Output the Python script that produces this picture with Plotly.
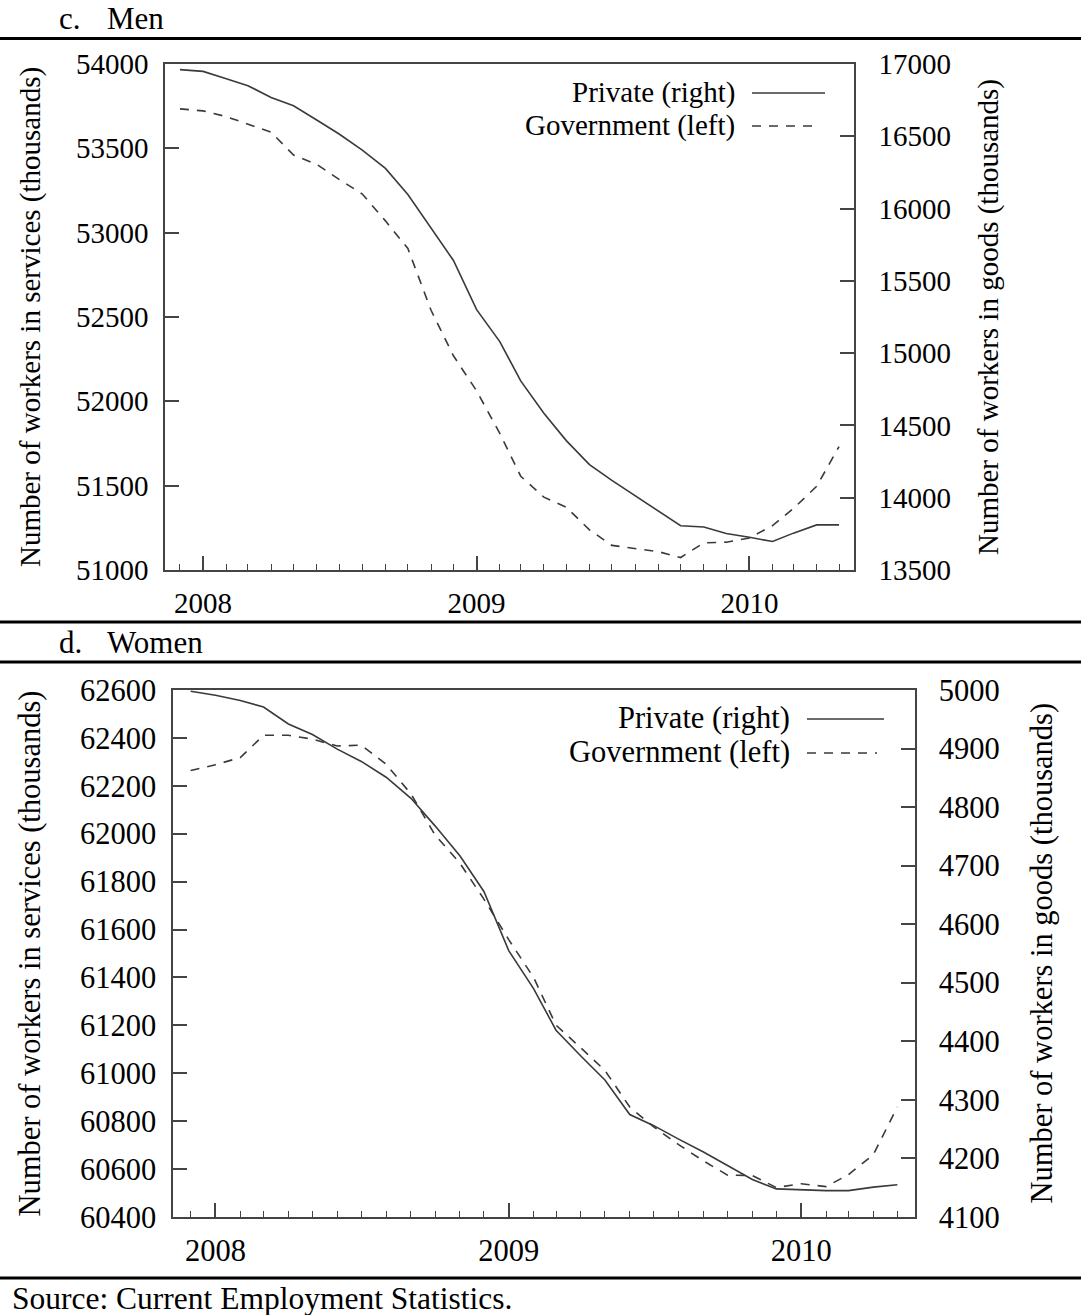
import pandas as pd
import plotly.graph_objects as go

# ---- data (thousands of workers), monthly Dec 2007 - May 2010 ----
months = pd.date_range("2007-12-01", periods=30, freq="MS")

men_private_right = [16961, 16949, 16898, 16850, 16769, 16711, 16613, 16516, 16405, 16278,
                     16097, 15861, 15641, 15301, 15080, 14808, 14585, 14395, 14229, 14120,
                     14013, 13908, 13806, 13798, 13752, 13726, 13697, 13755, 13812, 13812]
men_government_left = [53734, 53722, 53688, 53643, 53596, 53460, 53405, 53316, 53229, 53070,
                       52906, 52540, 52270, 52062, 51810, 51556, 51432, 51372, 51238, 51146,
                       51126, 51109, 51074, 51161, 51165, 51190, 51263, 51365, 51496, 51732]

women_private_right = [4998, 4991, 4982, 4971, 4942, 4924, 4899, 4878, 4851, 4815,
                       4768, 4717, 4656, 4555, 4490, 4419, 4375, 4334, 4275, 4256,
                       4233, 4211, 4188, 4164, 4148, 4146, 4145, 4145, 4151, 4155]
women_government_left = [62264, 62288, 62318, 62411, 62411, 62395, 62366, 62370, 62290, 62166,
                         61995, 61877, 61727, 61558, 61400, 61201, 61106, 61012, 60859, 60776,
                         60702, 60634, 60575, 60573, 60523, 60539, 60527, 60577, 60660, 60860]

year_ticks = ["2008-01-01", "2009-01-01", "2010-01-01"]
year_labels = ["2008", "2009", "2010"]

men_left_ticks = list(range(51000, 54001, 500))
men_right_ticks = list(range(13500, 17001, 500))
women_left_ticks = list(range(60400, 62601, 200))
women_right_ticks = list(range(4100, 5001, 100))

LEFT_TITLE = "Number of workers in services (thousands)"
RIGHT_TITLE = "Number of workers in goods (thousands)"

# ---- page geometry (pixels) ----
W, H = 1081, 1315
FONT = "Liberation Serif, Times New Roman, serif"
AX = "#444444"
LINE = "#3a3a3a"


def px(x):
    return x / W


def py(y):
    return 1 - y / H


men_box = dict(l=165, r=854, t=64, b=570)
women_box = dict(l=173, r=915, t=690, b=1217)

fig = go.Figure()

fig.add_trace(go.Scatter(x=months, y=men_government_left, xaxis="x", yaxis="y",
                         mode="lines", line=dict(color=LINE, width=1.6, dash="9px,8px"),
                         showlegend=False))
fig.add_trace(go.Scatter(x=months, y=men_private_right, xaxis="x", yaxis="y2",
                         mode="lines", line=dict(color=LINE, width=1.6),
                         showlegend=False))
fig.add_trace(go.Scatter(x=months, y=women_government_left, xaxis="x2", yaxis="y3",
                         mode="lines", line=dict(color=LINE, width=1.6, dash="9px,8px"),
                         showlegend=False))
fig.add_trace(go.Scatter(x=months, y=women_private_right, xaxis="x2", yaxis="y4",
                         mode="lines", line=dict(color=LINE, width=1.6),
                         showlegend=False))


def xaxis_cfg(box, rng, size, anchor):
    return dict(
        domain=[px(box["l"]), px(box["r"])], type="date", range=rng, anchor=anchor,
        tickmode="array", tickvals=year_ticks, ticktext=year_labels,
        ticks="inside", ticklen=14, tickwidth=1.5, tickcolor=AX,
        showline=True, linecolor=AX, linewidth=1.5, mirror=True,
        showgrid=False, zeroline=False, automargin=False,
        tickfont=dict(family=FONT, size=size, color="black"),
        ticklabelstandoff=6,
        minor=dict(ticks="inside", ticklen=6, tickwidth=1.3, tickcolor=AX,
                   dtick="M1", tick0="2007-12-01", showgrid=False),
    )


def yaxis_cfg(box, rng, vals, size, side, **kw):
    d = dict(
        domain=[py(box["b"]), py(box["t"])], range=rng,
        tickmode="array", tickvals=vals, ticktext=[str(v) for v in vals],
        ticks="inside", ticklen=14, tickwidth=1.5, tickcolor=AX,
        showline=True, linecolor=AX, linewidth=1.5,
        showgrid=False, zeroline=False, side=side, automargin=False,
        tickfont=dict(family=FONT, size=size, color="black"),
    )
    d.update(kw)
    return d


fig.update_layout(
    width=W, height=H,
    margin=dict(l=0, r=0, t=0, b=0, pad=0, autoexpand=False),
    paper_bgcolor="white", plot_bgcolor="white",
    font=dict(family=FONT, color="black"),
    xaxis=xaxis_cfg(men_box, ["2007-11-11", "2010-05-21"], 29, "y"),
    yaxis=yaxis_cfg(men_box, [51000, 54000], men_left_ticks, 29, "left",
                    anchor="x", ticklabelstandoff=9),
    yaxis2=yaxis_cfg(men_box, [13500, 17000], men_right_ticks, 29, "right",
                     anchor="x", overlaying="y", ticklabelstandoff=17),
    xaxis2=xaxis_cfg(women_box, ["2007-11-09", "2010-05-23"], 30.5, "y3"),
    yaxis3=yaxis_cfg(women_box, [60400, 62600], women_left_ticks, 30.5, "left",
                     anchor="x2", ticklabelstandoff=9),
    yaxis4=yaxis_cfg(women_box, [4100, 5000], women_right_ticks, 30.5, "right",
                     anchor="x2", overlaying="y3", ticklabelstandoff=16),
)

ann = []
shapes = []


def text(x, y, s, size, xanchor="left", angle=0):
    ann.append(dict(x=px(x), y=py(y), xref="paper", yref="paper", text=s,
                    showarrow=False, xanchor=xanchor, yanchor="middle",
                    textangle=angle, font=dict(family=FONT, size=size, color="black")))


def hline(x0, x1, y, width, color="black", dash=None):
    ln = dict(color=color, width=width)
    if dash:
        ln["dash"] = dash
    shapes.append(dict(type="line", xref="paper", yref="paper",
                       x0=px(x0), x1=px(x1), y0=py(y), y1=py(y), line=ln))


# panel headings and rules
text(57, 18, "c.", 31)
text(105, 18, "Men", 31)
text(57, 642, "d.", 31)
text(105, 642, "Women", 31)
text(10, 1298, "Source: Current Employment Statistics.", 31.5)
for y in (38.5, 622, 662, 1278):
    hline(0, W, y, 3)

# axis titles
text(30, (men_box["t"] + men_box["b"]) / 2, LEFT_TITLE, 29, "center", -90)
text(988, (men_box["t"] + men_box["b"]) / 2, RIGHT_TITLE, 29, "center", -90)
text(29, (women_box["t"] + women_box["b"]) / 2, LEFT_TITLE, 30.5, "center", -90)
text(1041, (women_box["t"] + women_box["b"]) / 2, RIGHT_TITLE, 30.5, "center", -90)

# in-plot keys
text(737, 92, "Private (right)", 29, "right")
text(737, 125, "Government (left)", 29, "right")
hline(752, 825, 93, 1.6, LINE)
hline(752, 818, 126, 1.6, LINE, "9px,8px")

text(792, 718, "Private (right)", 30.5, "right")
text(792, 752, "Government (left)", 30.5, "right")
hline(807, 884, 719, 1.6, LINE)
hline(807, 877, 753, 1.6, LINE, "9px,8px")

fig.update_layout(annotations=ann, shapes=shapes)

fig.write_html("out.html")
